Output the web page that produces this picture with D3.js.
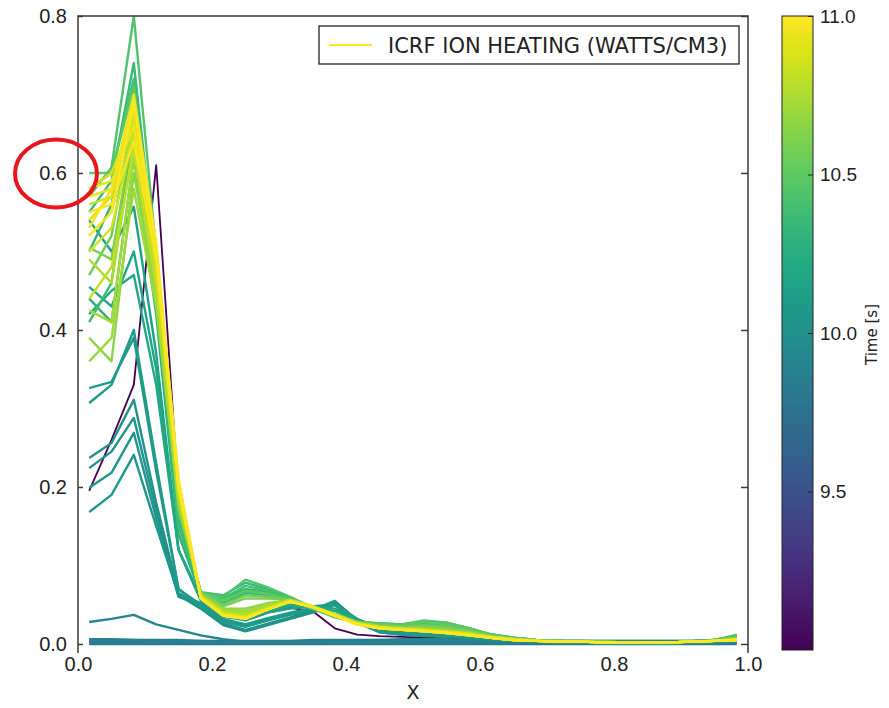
<!DOCTYPE html>
<html>
<head>
<meta charset="utf-8">
<script src="https://cdn.jsdelivr.net/npm/d3@7"></script>
<style>
  body { margin: 0; background: #fff; }
  svg { font-family: "DejaVu Sans", sans-serif; }
</style>
</head>
<body>
<div id="chart"></div>
<script>
// radial grid (zone centres)
var xs = [0.0167,0.05,0.0833,0.1167,0.15,0.1833,0.2167,0.25,0.2833,0.3167,0.35,0.3833,0.4167,0.45,0.4833,
          0.5167,0.55,0.5833,0.6167,0.65,0.6833,0.7167,0.75,0.7833,0.8167,0.85,0.8833,0.9167,0.95,0.9833];

// time of each profile [s]
var times = [9.0, 9.78, 9.8, 9.82, 9.84, 9.86, 9.88, 9.9,
             10.0, 10.02, 10.04, 10.06, 10.08, 10.1, 10.14, 10.18, 10.2,
             10.28, 10.3, 10.35, 10.38, 10.4, 10.45, 10.5, 10.55, 10.6,
             10.65, 10.7, 10.72, 10.75, 10.78, 10.8, 10.83,
             10.86, 10.88, 10.9, 10.93, 10.95, 10.96, 10.98, 11.0];

// ICRF ion heating profiles (W/cm3), one per time
var profiles = [
  [0.195,0.26,0.33,0.61,0.19,0.06,0.036,0.03,0.04,0.046,0.042,0.02,0.012,0.01,0.009,0.008,0.007,0.006,0.005,0.004,0.003,0.002,0.002,0.001,0.001,0.001,0.001,0.001,0.002,0.003],
  [0.0,0.0,0.0,0.0,0.0,0.0,0.0,0.0,0.0,0.0,0.0,0.0,0.0,0.0,0.0,0.0,0.0,0.0,0.0,0.0,0.0,0.0,0.0,0.0,0.0,0.0,0.0,0.0,0.0,0.0],
  [0.004,0.004,0.004,0.004,0.004,0.004,0.003,0.003,0.003,0.003,0.003,0.003,0.003,0.003,0.003,0.003,0.003,0.003,0.003,0.003,0.003,0.003,0.003,0.003,0.003,0.003,0.003,0.003,0.003,0.004],
  [0.002,0.002,0.002,0.002,0.002,0.002,0.002,0.002,0.002,0.002,0.002,0.002,0.002,0.002,0.002,0.002,0.002,0.002,0.002,0.002,0.002,0.002,0.002,0.002,0.002,0.002,0.002,0.002,0.002,0.002],
  [0.006,0.006,0.005,0.005,0.005,0.004,0.004,0.004,0.004,0.004,0.005,0.005,0.005,0.005,0.004,0.004,0.004,0.004,0.004,0.004,0.004,0.004,0.004,0.004,0.004,0.004,0.004,0.004,0.005,0.006],
  [0.001,0.001,0.001,0.001,0.001,0.001,0.001,0.001,0.001,0.001,0.001,0.001,0.001,0.001,0.001,0.001,0.001,0.001,0.001,0.001,0.001,0.001,0.001,0.001,0.001,0.001,0.001,0.001,0.001,0.002],
  [0.005,0.005,0.005,0.004,0.004,0.003,0.003,0.003,0.003,0.003,0.003,0.004,0.004,0.005,0.006,0.006,0.006,0.005,0.005,0.004,0.004,0.004,0.004,0.003,0.003,0.003,0.003,0.003,0.004,0.005],
  [0.028,0.032,0.037,0.025,0.018,0.011,0.006,0.003,0.003,0.002,0.002,0.002,0.002,0.003,0.004,0.005,0.005,0.005,0.004,0.004,0.004,0.004,0.004,0.004,0.004,0.004,0.004,0.004,0.005,0.006],
  [0.237,0.256,0.311,0.18,0.065,0.048,0.026,0.018,0.026,0.034,0.042,0.054,0.03,0.016,0.012,0.01,0.009,0.008,0.006,0.004,0.003,0.002,0.002,0.001,0.001,0.001,0.001,0.002,0.002,0.003],
  [0.224,0.245,0.288,0.17,0.062,0.045,0.024,0.016,0.024,0.032,0.04,0.05,0.028,0.015,0.012,0.011,0.01,0.008,0.006,0.004,0.003,0.002,0.002,0.001,0.001,0.001,0.001,0.002,0.002,0.003],
  [0.199,0.218,0.269,0.16,0.06,0.05,0.03,0.022,0.03,0.037,0.043,0.055,0.03,0.017,0.013,0.012,0.011,0.009,0.007,0.005,0.003,0.002,0.002,0.001,0.001,0.001,0.001,0.002,0.002,0.003],
  [0.168,0.19,0.241,0.15,0.063,0.052,0.032,0.025,0.032,0.038,0.045,0.05,0.027,0.015,0.012,0.011,0.01,0.008,0.006,0.004,0.003,0.002,0.002,0.001,0.001,0.001,0.001,0.002,0.002,0.003],
  [0.326,0.334,0.39,0.22,0.07,0.05,0.03,0.025,0.033,0.04,0.046,0.052,0.03,0.018,0.014,0.013,0.012,0.01,0.007,0.005,0.003,0.002,0.002,0.002,0.001,0.001,0.001,0.002,0.003,0.004],
  [0.307,0.33,0.4,0.23,0.07,0.047,0.028,0.022,0.03,0.038,0.044,0.05,0.032,0.02,0.016,0.015,0.013,0.011,0.008,0.005,0.003,0.002,0.002,0.002,0.001,0.001,0.001,0.002,0.003,0.004],
  [0.54,0.5,0.557,0.37,0.12,0.055,0.035,0.03,0.04,0.045,0.048,0.05,0.03,0.022,0.02,0.02,0.018,0.014,0.009,0.006,0.004,0.003,0.002,0.002,0.002,0.001,0.001,0.002,0.003,0.005],
  [0.455,0.43,0.5,0.35,0.12,0.058,0.04,0.035,0.042,0.048,0.048,0.045,0.03,0.022,0.02,0.022,0.02,0.015,0.01,0.006,0.004,0.003,0.002,0.002,0.002,0.001,0.001,0.002,0.003,0.005],
  [0.42,0.45,0.47,0.33,0.12,0.06,0.045,0.04,0.045,0.05,0.047,0.042,0.03,0.024,0.022,0.025,0.022,0.016,0.01,0.006,0.004,0.003,0.002,0.002,0.002,0.002,0.002,0.003,0.004,0.006],
  [0.44,0.41,0.62,0.42,0.14,0.062,0.052,0.065,0.062,0.055,0.046,0.037,0.028,0.024,0.022,0.025,0.023,0.017,0.011,0.007,0.005,0.004,0.003,0.002,0.002,0.002,0.002,0.003,0.004,0.007],
  [0.5,0.56,0.7,0.46,0.16,0.065,0.058,0.07,0.066,0.056,0.045,0.036,0.028,0.025,0.024,0.027,0.025,0.019,0.012,0.008,0.005,0.004,0.003,0.003,0.002,0.002,0.002,0.003,0.005,0.009],
  [0.55,0.59,0.74,0.48,0.17,0.066,0.062,0.078,0.07,0.058,0.046,0.036,0.028,0.026,0.025,0.029,0.027,0.02,0.012,0.008,0.005,0.004,0.003,0.003,0.002,0.002,0.002,0.003,0.005,0.01],
  [0.41,0.46,0.66,0.44,0.15,0.064,0.054,0.066,0.062,0.055,0.045,0.035,0.027,0.024,0.023,0.026,0.024,0.018,0.011,0.007,0.005,0.004,0.003,0.003,0.002,0.002,0.002,0.003,0.004,0.008],
  [0.58,0.6,0.72,0.47,0.17,0.064,0.058,0.074,0.068,0.057,0.045,0.035,0.028,0.026,0.025,0.028,0.026,0.02,0.012,0.008,0.005,0.004,0.003,0.003,0.002,0.002,0.002,0.003,0.005,0.011],
  [0.57,0.607,0.8,0.5,0.17,0.065,0.06,0.082,0.072,0.06,0.046,0.036,0.028,0.026,0.025,0.03,0.027,0.02,0.012,0.008,0.005,0.004,0.003,0.003,0.002,0.002,0.002,0.003,0.005,0.012],
  [0.6,0.6,0.71,0.47,0.17,0.066,0.055,0.068,0.064,0.056,0.045,0.034,0.027,0.025,0.024,0.028,0.025,0.019,0.011,0.007,0.005,0.004,0.003,0.003,0.002,0.002,0.002,0.003,0.005,0.01],
  [0.47,0.52,0.68,0.46,0.17,0.066,0.05,0.062,0.06,0.056,0.046,0.036,0.028,0.024,0.022,0.024,0.022,0.017,0.011,0.007,0.005,0.004,0.003,0.003,0.002,0.002,0.002,0.003,0.004,0.008],
  [0.505,0.49,0.66,0.46,0.18,0.064,0.048,0.058,0.058,0.056,0.046,0.036,0.027,0.023,0.021,0.022,0.02,0.016,0.01,0.007,0.005,0.004,0.003,0.003,0.002,0.002,0.002,0.003,0.004,0.007],
  [0.39,0.36,0.6,0.44,0.18,0.062,0.045,0.045,0.052,0.056,0.048,0.038,0.028,0.023,0.021,0.02,0.018,0.015,0.01,0.006,0.004,0.003,0.003,0.002,0.002,0.002,0.002,0.003,0.004,0.007],
  [0.36,0.39,0.58,0.43,0.18,0.062,0.044,0.042,0.05,0.056,0.048,0.038,0.027,0.022,0.02,0.019,0.017,0.014,0.009,0.006,0.004,0.003,0.003,0.002,0.002,0.002,0.002,0.003,0.004,0.006],
  [0.425,0.41,0.62,0.45,0.19,0.062,0.043,0.04,0.05,0.056,0.048,0.038,0.027,0.022,0.02,0.019,0.017,0.014,0.009,0.006,0.004,0.003,0.003,0.002,0.002,0.002,0.002,0.003,0.004,0.006],
  [0.49,0.46,0.64,0.47,0.19,0.062,0.042,0.038,0.048,0.056,0.048,0.038,0.027,0.022,0.02,0.018,0.016,0.013,0.009,0.006,0.004,0.003,0.003,0.002,0.002,0.002,0.002,0.003,0.004,0.006],
  [0.52,0.55,0.66,0.48,0.19,0.06,0.04,0.036,0.047,0.056,0.048,0.037,0.026,0.021,0.019,0.018,0.016,0.013,0.009,0.006,0.004,0.003,0.003,0.002,0.002,0.002,0.002,0.003,0.004,0.006],
  [0.44,0.48,0.63,0.46,0.19,0.06,0.04,0.036,0.046,0.055,0.048,0.037,0.026,0.021,0.019,0.018,0.016,0.013,0.009,0.006,0.004,0.003,0.003,0.002,0.002,0.002,0.002,0.003,0.004,0.006],
  [0.56,0.57,0.67,0.49,0.2,0.06,0.039,0.035,0.046,0.055,0.048,0.037,0.026,0.021,0.019,0.018,0.016,0.013,0.009,0.006,0.004,0.003,0.003,0.002,0.002,0.002,0.002,0.003,0.004,0.006],
  [0.5,0.53,0.65,0.48,0.2,0.06,0.039,0.034,0.045,0.055,0.048,0.037,0.026,0.021,0.019,0.017,0.015,0.012,0.008,0.005,0.004,0.003,0.003,0.002,0.002,0.002,0.002,0.003,0.004,0.006],
  [0.58,0.6,0.67,0.5,0.2,0.059,0.038,0.034,0.045,0.055,0.048,0.037,0.026,0.021,0.019,0.017,0.015,0.012,0.008,0.005,0.004,0.003,0.003,0.002,0.002,0.002,0.002,0.003,0.004,0.005],
  [0.54,0.57,0.68,0.5,0.2,0.06,0.038,0.034,0.045,0.055,0.048,0.037,0.026,0.021,0.019,0.017,0.015,0.012,0.008,0.005,0.004,0.003,0.003,0.002,0.002,0.002,0.002,0.003,0.004,0.005],
  [0.57,0.58,0.7,0.51,0.21,0.058,0.037,0.033,0.044,0.054,0.047,0.036,0.025,0.02,0.018,0.017,0.015,0.012,0.008,0.005,0.004,0.003,0.003,0.002,0.002,0.002,0.002,0.003,0.004,0.005],
  [0.53,0.58,0.69,0.5,0.2,0.058,0.037,0.033,0.044,0.054,0.047,0.036,0.025,0.02,0.018,0.016,0.014,0.011,0.008,0.005,0.004,0.003,0.003,0.002,0.002,0.002,0.002,0.003,0.004,0.005],
  [0.58,0.59,0.66,0.5,0.2,0.058,0.037,0.033,0.044,0.054,0.047,0.036,0.025,0.02,0.018,0.016,0.014,0.011,0.008,0.005,0.004,0.003,0.003,0.002,0.002,0.002,0.002,0.003,0.004,0.005],
  [0.55,0.56,0.64,0.49,0.2,0.058,0.036,0.032,0.044,0.054,0.047,0.036,0.025,0.02,0.018,0.016,0.014,0.011,0.008,0.005,0.004,0.003,0.003,0.002,0.002,0.002,0.002,0.003,0.004,0.005],
  [0.52,0.55,0.69,0.51,0.21,0.058,0.036,0.032,0.044,0.054,0.047,0.036,0.025,0.02,0.018,0.016,0.014,0.011,0.008,0.005,0.004,0.003,0.003,0.002,0.002,0.002,0.002,0.003,0.004,0.005]
];

var yTicks = [0.0, 0.2, 0.4, 0.6, 0.8];
var xTicks = [0.0, 0.2, 0.4, 0.6, 0.8, 1.0];
var cbTicks = [9.5, 10.0, 10.5, 11.0];
var legendLabel = "ICRF ION HEATING (WATTS/CM3)";

var width = 889, height = 708;
var pLeft = 78, pRight = 748, pTop = 16, pBottom = 653;

var svg = d3.select("#chart").append("svg")
    .attr("width", width)
    .attr("height", height);

var x = d3.scaleLinear().domain([0, 1]).range([pLeft, pRight]);
var y = d3.scaleLinear().domain([-0.0115, 0.8]).range([pBottom, pTop]);
var tScale = d3.scaleLinear().domain([9.0, 11.0]).range([pBottom - 3, pTop]);
var color = function(t) { return d3.interpolateViridis((t - 9.0) / 2.0); };

svg.append("clipPath").attr("id", "clip")
  .append("rect")
    .attr("x", pLeft).attr("y", pTop)
    .attr("width", pRight - pLeft).attr("height", pBottom - pTop);

var line = d3.line()
    .x(function(d, i) { return x(xs[i]); })
    .y(function(d) { return y(d); });

svg.append("g")
    .attr("clip-path", "url(#clip)")
  .selectAll("path")
  .data(profiles)
  .enter().append("path")
    .attr("d", line)
    .attr("fill", "none")
    .attr("stroke", function(d, i) { return color(times[i]); })
    .attr("stroke-width", function(d, i) { return i == 0 ? 1.8 : 2.4; })
    .attr("stroke-linejoin", "round");

// spines: left, top, right (bottom edge is cut off in the picture)
svg.append("path")
    .attr("d", "M" + pLeft + "," + pBottom + "V" + pTop + "H" + pRight + "V" + pBottom)
    .attr("fill", "none")
    .attr("stroke", "#3a3a3a")
    .attr("stroke-width", 1.5);

// y axis
var yAxis = svg.append("g")
    .attr("transform", "translate(" + pLeft + ",0)")
    .call(d3.axisLeft(y).tickValues(yTicks).tickFormat(d3.format(".1f"))
      .tickSizeInner(-5).tickSizeOuter(0).tickPadding(11));
yAxis.select(".domain").remove();
yAxis.selectAll("line").attr("stroke", "#3a3a3a").attr("stroke-width", 1.5);
yAxis.selectAll("text").attr("font-size", 20).attr("fill", "#222");

// right ticks
var yRight = svg.append("g")
    .attr("transform", "translate(" + pRight + ",0)")
    .call(d3.axisRight(y).tickValues(yTicks).tickSizeInner(-7).tickSizeOuter(0).tickFormat(""));
yRight.select(".domain").remove();
yRight.selectAll("line").attr("stroke", "#3a3a3a").attr("stroke-width", 1.5);

// x axis labels
var xAxis = svg.append("g")
    .attr("transform", "translate(0," + pBottom + ")")
    .call(d3.axisBottom(x).tickValues(xTicks).tickFormat(d3.format(".1f"))
      .tickSize(0).tickPadding(4));
xAxis.select(".domain").remove();
xAxis.selectAll("text").attr("font-size", 20).attr("fill", "#222");

svg.append("text")
    .attr("x", (pLeft + pRight) / 2)
    .attr("y", 699)
    .attr("text-anchor", "middle")
    .attr("font-size", 19)
    .attr("fill", "#222")
    .text("X");

// legend
var legend = svg.append("g");
legend.append("rect")
    .attr("x", 319).attr("y", 26)
    .attr("width", 420).attr("height", 38)
    .attr("fill", "#fff")
    .attr("stroke", "#222")
    .attr("stroke-width", 1.3);
legend.append("line")
    .attr("x1", 329).attr("x2", 372)
    .attr("y1", 45).attr("y2", 45)
    .attr("stroke", color(11.0))
    .attr("stroke-width", 2);
legend.append("text")
    .attr("x", 388).attr("y", 53)
    .attr("font-size", 21)
    .attr("fill", "#222")
    .text(legendLabel);

// colorbar
var cbX = 782, cbW = 31;
var grad = svg.append("defs").append("linearGradient")
    .attr("id", "viridis")
    .attr("x1", "0").attr("y1", "1").attr("x2", "0").attr("y2", "0");
d3.range(0, 1.0001, 0.05).forEach(function(s) {
  grad.append("stop")
      .attr("offset", s)
      .attr("stop-color", d3.interpolateViridis(s));
});
svg.append("rect")
    .attr("x", cbX).attr("y", tScale(11.0))
    .attr("width", cbW).attr("height", tScale(9.0) - tScale(11.0))
    .attr("fill", "url(#viridis)")
    .attr("stroke", "#222")
    .attr("stroke-width", 1);

var cbAxis = svg.append("g")
    .attr("transform", "translate(" + (cbX + cbW) + ",0)")
    .call(d3.axisRight(tScale).tickValues(cbTicks).tickFormat(d3.format(".1f"))
      .tickSizeInner(-5).tickSizeOuter(0).tickPadding(7));
cbAxis.select(".domain").remove();
cbAxis.selectAll("line").attr("stroke", "#222");
cbAxis.selectAll("text").attr("font-size", 19).attr("fill", "#222");

svg.append("text")
    .attr("transform", "translate(877," + (pTop + pBottom) / 2 + ") rotate(-90)")
    .attr("text-anchor", "middle")
    .attr("font-size", 15)
    .attr("fill", "#222")
    .text("Time [s]");

// red highlight circle around the 0.6 label
svg.append("ellipse")
    .attr("cx", 56).attr("cy", y(0.6) + 0.5)
    .attr("rx", 41).attr("ry", 34)
    .attr("fill", "none")
    .attr("stroke", "#e8151b")
    .attr("stroke-width", 4);
</script>
</body>
</html>
